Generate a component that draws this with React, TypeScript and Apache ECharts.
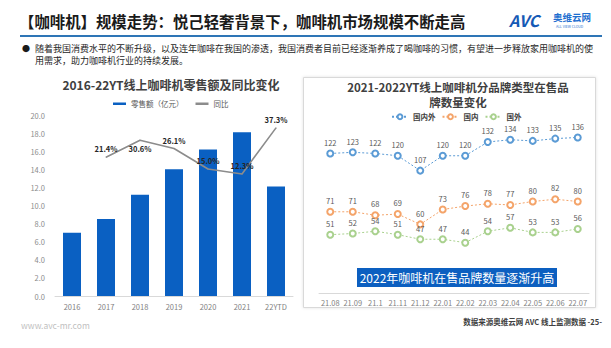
import React, { useEffect, useRef } from 'react';
import * as echarts from 'echarts';

const pageTitle = '【咖啡机】规模走势：悦己轻奢背景下，咖啡机市场规模不断走高';
const bulletLines = [
  '随着我国消费水平的不断升级，以及连年咖啡在我国的渗透，我国消费者目前已经逐渐养成了喝咖啡的习惯，有望进一步释放家用咖啡机的使',
  '用需求，助力咖啡机行业的持续发展。',
];
const leftTitle = '2016-22YT线上咖啡机零售额及同比变化';
const rightTitleLines = ['2021-2022YT线上咖啡机分品牌类型在售品', '牌数量变化'];
const bannerText = '2022年咖啡机在售品牌数量逐渐升高';
const footerText = '数据来源奥维云网 AVC 线上监测数据 -25-';
const siteText = 'www.avc-mr.com';

const years = ['2016', '2017', '2018', '2019', '2020', '2021', '22YTD'];
const retailSales = [7.0, 8.5, 11.2, 14.0, 16.2, 18.1, 12.1];
const yoyGrowth: (number | null)[] = [null, 21.4, 30.6, 26.1, 15.0, 12.3, 37.3];
const yoyBelow = ['2018'];

const months = ['21.08', '21.09', '21.1', '21.11', '21.12', '22.01', '22.02', '22.03', '22.04', '22.05', '22.06', '22.07'];
const allBrands = [122, 123, 122, 120, 107, 120, 120, 132, 134, 133, 135, 136];
const domesticBrands = [71, 71, 68, 69, 60, 73, 76, 78, 77, 80, 82, 80];
const foreignBrands = [51, 52, 54, 51, 47, 47, 44, 54, 57, 53, 53, 56];

const FONT = '"Noto Sans CJK SC", "Noto Sans", sans-serif';

function txt(text: string, x: number, y: number, size: number, fill: string, opts: any = {}) {
  const align = opts.align || 'left';
  return {
    type: 'text',
    x,
    y,
    z: 10,
    style: {
      text,
      fontSize: size,
      fontFamily: FONT,
      fontWeight: opts.weight || 'normal',
      fontStyle: opts.style || 'normal',
      fill,
      align,
      textAlign: align,
      verticalAlign: 'middle',
      textVerticalAlign: 'middle',
    },
  };
}

export default function App() {
  const ref = useRef<HTMLDivElement>(null);
  useEffect(() => {
    document.body.style.margin = '0';
    const chart = echarts.init(ref.current!, null, { renderer: 'svg' });
    const lineSeries = (name: string, data: number[], color: string) => ({
      name,
      type: 'line',
      xAxisIndex: 1,
      yAxisIndex: 2,
      data,
      symbol: 'emptyCircle',
      symbolSize: 6,
      itemStyle: { color, borderWidth: 1.2 },
      lineStyle: { color, width: 1, type: [2, 2] },
      label: { show: true, position: 'top', distance: 3.5, fontSize: 7.5, color: '#595959', fontFamily: FONT },
    });
    chart.setOption({
      animation: false,
      backgroundColor: '#ffffff',
      textStyle: { fontFamily: FONT },
      graphic: [
        txt(pageTitle, 19, 21, 15.4, '#1a1a1a', { weight: 'bold' }),
        { type: 'line', z: 10, shape: { x1: 20, y1: 36, x2: 602, y2: 36 }, style: { stroke: '#2e75b6', lineWidth: 2 } },
        txt('AVC', 509, 20, 16, '#1559b5', { weight: 'bold', style: 'italic' }),
        txt('奥维云网', 553, 17, 9.5, '#1f6fd0', { weight: 'bold' }),
        txt('ALL VIEW CLOUD', 556, 26, 3.5, '#1f6fd0'),
        txt('●', 22, 48, 8, '#1a1a1a'),
        txt(bulletLines[0], 35, 48, 9, '#262626'),
        txt(bulletLines[1], 35, 60, 9, '#262626'),
        txt(leftTitle, 171, 84, 12, '#404040', { weight: 'bold', align: 'center' }),
        txt(siteText, 21, 325, 8.5, '#bfbfbf'),
        {
          type: 'rect',
          z: -1,
          shape: { x: 303.5, y: 77.5, width: 292, height: 230 },
          style: { fill: '#ffffff', stroke: '#d9d9d9', lineWidth: 1, shadowBlur: 3, shadowColor: 'rgba(0,0,0,0.12)' },
        },
        txt(rightTitleLines[0], 458, 87, 11.5, '#404040', { weight: 'bold', align: 'center' }),
        txt(rightTitleLines[1], 458, 102, 11.5, '#404040', { weight: 'bold', align: 'center' }),
        { type: 'rect', z: 9, shape: { x: 357, y: 268, width: 200, height: 19 }, style: { fill: '#0c5fc0' } },
        txt(bannerText, 457, 277.5, 12, '#ffffff', { align: 'center' }),
        txt(footerText, 602, 321, 7.5, '#404040', { align: 'right', weight: 'bold' }),
      ],
      legend: [
        {
          data: [{ name: '零售额（亿元）' }, { name: '同比' }],
          left: 108,
          top: 95,
          icon: 'rect',
          itemWidth: 13,
          itemHeight: 2.5,
          itemGap: 12,
          textStyle: { fontSize: 7.5, color: '#595959', fontFamily: FONT },
        },
        {
          data: ['国内外', '国内', '国外'],
          left: 386,
          top: 108,
          itemWidth: 16,
          itemHeight: 6,
          itemGap: 6,
          textStyle: { fontSize: 7.5, color: '#404040', fontWeight: 'bold', fontFamily: FONT },
        },
      ],
      grid: [
        { left: 55, right: 318, top: 115, bottom: 52 },
        { left: 319, right: 22, top: 110, bottom: 55 },
      ],
      xAxis: [
        {
          type: 'category',
          gridIndex: 0,
          data: years,
          axisTick: { show: false },
          axisLine: { lineStyle: { color: '#d9d9d9' } },
          axisLabel: { fontSize: 7.5, color: '#7f7f7f', margin: 7 },
        },
        {
          type: 'category',
          gridIndex: 1,
          data: months,
          axisTick: { show: false },
          axisLine: { lineStyle: { color: '#d9d9d9' } },
          axisLabel: { fontSize: 7.5, color: '#7f7f7f', margin: 6, interval: 0 },
        },
      ],
      yAxis: [
        {
          type: 'value',
          gridIndex: 0,
          min: 0,
          max: 20,
          interval: 2,
          axisLine: { show: false },
          axisTick: { show: false },
          splitLine: { show: false },
          axisLabel: { fontSize: 7.5, color: '#8c8c8c', margin: 10, formatter: (v: number) => v.toFixed(1) },
        },
        { type: 'value', gridIndex: 0, min: -54, max: 44.3, show: false, splitLine: { show: false } },
        { type: 'value', gridIndex: 1, min: 0, max: 160, show: false, splitLine: { show: false } },
      ],
      series: [
        {
          name: '零售额（亿元）',
          type: 'bar',
          xAxisIndex: 0,
          yAxisIndex: 0,
          data: retailSales,
          barWidth: 18,
          itemStyle: { color: '#0a60c2' },
        },
        {
          name: '同比',
          type: 'line',
          xAxisIndex: 0,
          yAxisIndex: 1,
          data: yoyGrowth.map((v, i) =>
            v === null ? null : { value: v, label: { position: yoyBelow.includes(years[i]) ? 'bottom' : 'top' } }
          ),
          symbol: 'circle',
          symbolSize: 1,
          itemStyle: { color: '#8c8c8c' },
          lineStyle: { color: '#8c8c8c', width: 1.6 },
          label: {
            show: true,
            position: 'top',
            distance: 4,
            fontSize: 7.5,
            fontWeight: 'bold',
            color: '#262626',
            fontFamily: FONT,
            formatter: (p: any) => p.value.toFixed(1) + '%',
          },
        },
        lineSeries('国内外', allBrands, '#5b9bd5'),
        lineSeries('国内', domesticBrands, '#f4a46a'),
        lineSeries('国外', foreignBrands, '#a9d18e'),
      ],
    });
    return () => chart.dispose();
  }, []);
  return <div ref={ref} style={{ width: 611, height: 348 }} />;
}
